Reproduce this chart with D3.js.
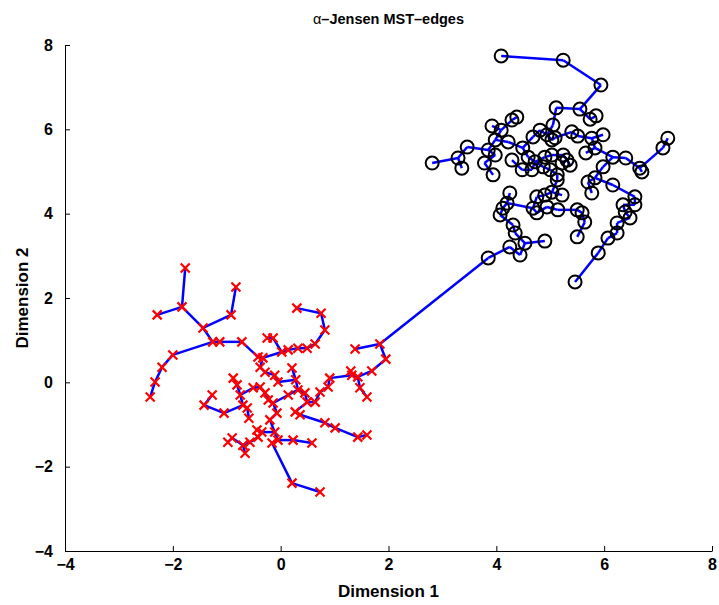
<!DOCTYPE html>
<html lang="en">
<head>
<meta charset="utf-8">
<title>alpha-Jensen MST-edges</title>
<script src="https://cdn.jsdelivr.net/npm/d3@7"></script>
<style>
  body { margin: 0; background: #fff; }
  text { font-family: "Liberation Sans", Arial, Helvetica, sans-serif; font-weight: bold; }
</style>
</head>
<body>
<div id="chart"></div>
<script>
// red class (x markers), [dim1, dim2]
var redX = [-1.77,-0.83,-1.83,-2.29,-0.92,-1.44,-1.26,-1.13,-0.72,-2.00,-2.20,-2.33,-2.42,
  -1.27,-1.42,-1.05,-0.88,-0.81,-0.75,-0.70,-0.62,-0.59,-0.51,-0.38,-0.90,-0.98,-0.70,-0.66,
  -0.57,-0.44,-0.42,0.30,0.75,0.82,0.64,0.49,0.32,0.14,0.02,-0.25,-0.14,-0.42,-0.33,-0.38,
  -0.29,-0.11,0.21,-0.05,-0.29,0.14,0.32,0.45,0.64,0.73,0.88,0.91,1.32,0.49,-0.14,-0.07,
  0.27,0.82,1.01,-0.20,-0.35,-0.11,-0.05,0.23,0.58,1.38,1.84,1.95,1.69,1.30,1.43,1.47,1.60,
  1.43,1.60,0.21,0.73,0.36,-0.23,0.28,-0.16];
var redY = [2.71,2.26,1.79,1.60,1.60,1.29,0.96,0.96,0.96,0.65,0.36,0.01,-0.35,
  -0.30,-0.54,-0.73,0.10,-0.06,-0.30,-0.54,-0.61,-0.85,-0.13,-0.11,-1.32,-1.42,-1.49,-1.68,
  -1.42,-1.13,-1.30,1.76,1.64,1.24,0.91,0.81,0.81,0.77,0.72,1.05,1.05,0.60,0.58,0.36,
  0.24,0.17,0.34,0.01,-0.25,-0.30,-0.18,-0.25,-0.47,-0.23,-0.11,0.10,0.17,-0.47,-0.49,-0.73,
  -0.70,-0.96,-1.08,-0.89,-1.18,-1.18,-1.37,-1.37,-1.44,0.79,0.91,0.55,0.27,0.27,0.13,-0.13,-0.35,
  -1.30,-1.25,-2.39,-2.60,-0.77,-0.42,0.06,-1.44];

// black class (circle markers)
var blackX = [4.09,5.24,5.94,5.11,5.55,5.74,5.85,3.92,4.29,4.38,4.09,3.98,4.22,3.46,3.29,2.81,
  3.36,3.85,3.98,4.29,4.49,4.59,4.81,4.68,4.94,5.03,5.05,3.78,5.40,5.51,5.77,5.98,5.83,5.66,
  7.18,7.09,6.16,6.40,6.66,5.98,5.24,5.31,5.37,5.09,3.94,4.48,4.66,4.72,4.90,4.87,4.25,4.20,
  4.12,4.07,4.31,4.75,4.68,4.75,4.90,4.94,5.22,5.03,5.83,5.70,5.77,6.16,5.00,5.03,5.22,5.14,
  5.50,5.59,6.35,6.39,5.64,6.24,4.35,4.53,4.25,4.44,4.90,3.85,5.13,5.13,6.70,6.57,6.57,6.48,
  6.24,6.07,5.50,5.89,5.46];
var blackY = [7.74,7.64,7.05,6.51,6.48,6.24,6.32,6.08,6.22,6.29,5.98,5.75,5.70,5.58,5.32,5.20,
  5.08,5.51,5.39,5.27,5.56,5.34,5.98,5.82,5.87,5.75,6.10,5.20,5.94,5.84,5.79,5.87,5.56,5.44,
  5.79,5.56,5.34,5.32,5.08,5.11,5.39,5.27,5.15,5.80,4.92,5.04,5.04,5.23,5.34,5.11,4.49,4.25,
  4.13,3.97,3.73,4.40,4.13,4.02,4.44,4.16,5.20,5.39,4.85,4.75,4.49,4.68,5.04,4.51,4.44,4.09,
  4.09,4.02,4.21,4.04,3.80,3.78,3.54,3.30,3.21,3.02,3.35,2.95,4.92,4.80,4.99,4.40,4.21,3.90,
  3.54,3.42,3.45,3.07,2.38];

var xTicks = [-4, -2, 0, 2, 4, 6, 8];
var yTicks = [-4, -2, 0, 2, 4, 6, 8];

var w = 719, h = 605;
var padLeft = 65, padRight = 712, padTop = 45, padBottom = 551;

var xScale = d3.scaleLinear().domain([-4, 8]).range([padLeft, padRight]);
var yScale = d3.scaleLinear().domain([-4, 8]).range([padBottom, padTop]);

var svg = d3.select("#chart").append("svg")
  .attr("width", w)
  .attr("height", h);

// all points together, then Euclidean minimum spanning tree (Prim)
var pts = [];
redX.forEach(function(d, i) { pts.push({x: d, y: redY[i], cls: "red"}); });
blackX.forEach(function(d, i) { pts.push({x: d, y: blackY[i], cls: "black"}); });

var n = pts.length;
var inTree = new Array(n).fill(false);
var best = new Array(n).fill(Infinity);
var from = new Array(n).fill(-1);
var edges = [];
best[0] = 0;
for (var k = 0; k < n; k++) {
  var u = -1;
  for (var i = 0; i < n; i++) {
    if (!inTree[i] && (u < 0 || best[i] < best[u])) u = i;
  }
  inTree[u] = true;
  if (from[u] >= 0) edges.push([from[u], u]);
  for (var j = 0; j < n; j++) {
    if (inTree[j]) continue;
    var dx = pts[u].x - pts[j].x, dy = pts[u].y - pts[j].y;
    var dd = dx * dx + dy * dy;
    if (dd < best[j]) { best[j] = dd; from[j] = u; }
  }
}

// edges
svg.append("g").selectAll("line")
  .data(edges)
  .enter()
  .append("line")
  .attr("x1", function(d) { return xScale(pts[d[0]].x); })
  .attr("y1", function(d) { return yScale(pts[d[0]].y); })
  .attr("x2", function(d) { return xScale(pts[d[1]].x); })
  .attr("y2", function(d) { return yScale(pts[d[1]].y); })
  .attr("stroke", "#0000ff")
  .attr("stroke-width", 2.5);

// black circles
svg.append("g").selectAll("circle")
  .data(pts.filter(function(d) { return d.cls == "black"; }))
  .enter()
  .append("circle")
  .attr("cx", function(d) { return xScale(d.x); })
  .attr("cy", function(d) { return yScale(d.y); })
  .attr("r", 6.5)
  .attr("fill", "none")
  .attr("stroke", "#000")
  .attr("stroke-width", 2);

// red crosses
svg.append("g").selectAll("path")
  .data(pts.filter(function(d) { return d.cls == "red"; }))
  .enter()
  .append("path")
  .attr("d", "M-4.5,-4.5L4.5,4.5M-4.5,4.5L4.5,-4.5")
  .attr("transform", function(d) { return "translate(" + xScale(d.x) + "," + yScale(d.y) + ")"; })
  .attr("stroke", "#ff0000")
  .attr("stroke-width", 2.2)
  .attr("fill", "none");

// axes (MATLAB style, ticks inward, no box)
var xAxis = d3.axisBottom(xScale).tickValues(xTicks).tickSizeInner(-5).tickSizeOuter(0).tickPadding(8);
var yAxis = d3.axisLeft(yScale).tickValues(yTicks).tickSizeInner(-5).tickSizeOuter(0).tickPadding(9);

var gx = svg.append("g").attr("transform", "translate(0," + padBottom + ")").call(xAxis);
var gy = svg.append("g").attr("transform", "translate(" + padLeft + ",0)").call(yAxis);
[gx, gy].forEach(function(g) {
  g.select(".domain").attr("stroke", "#000").attr("stroke-width", 1);
  g.selectAll(".tick line").attr("stroke", "#000");
  g.selectAll(".tick text")
    .attr("fill", "#000")
    .style("font-size", "16px")
    .style("font-family", "'Liberation Sans', Arial, sans-serif")
    .style("font-weight", "bold");
});
gy.selectAll(".tick text").attr("dx", "-3");

// title and labels
var title = svg.append("text")
  .attr("x", (padLeft + padRight) / 2)
  .attr("y", 24)
  .attr("text-anchor", "middle")
  .style("font-size", "14.5px");
title.append("tspan").style("font-weight", "normal").text("α");
title.append("tspan").text("–Jensen MST–edges");

svg.append("text")
  .attr("x", (padLeft + padRight) / 2)
  .attr("y", 597)
  .attr("text-anchor", "middle")
  .style("font-size", "17px")
  .text("Dimension 1");

svg.append("text")
  .attr("transform", "translate(28," + ((padTop + padBottom) / 2) + ") rotate(-90)")
  .attr("text-anchor", "middle")
  .style("font-size", "17px")
  .text("Dimension 2");
</script>
</body>
</html>
